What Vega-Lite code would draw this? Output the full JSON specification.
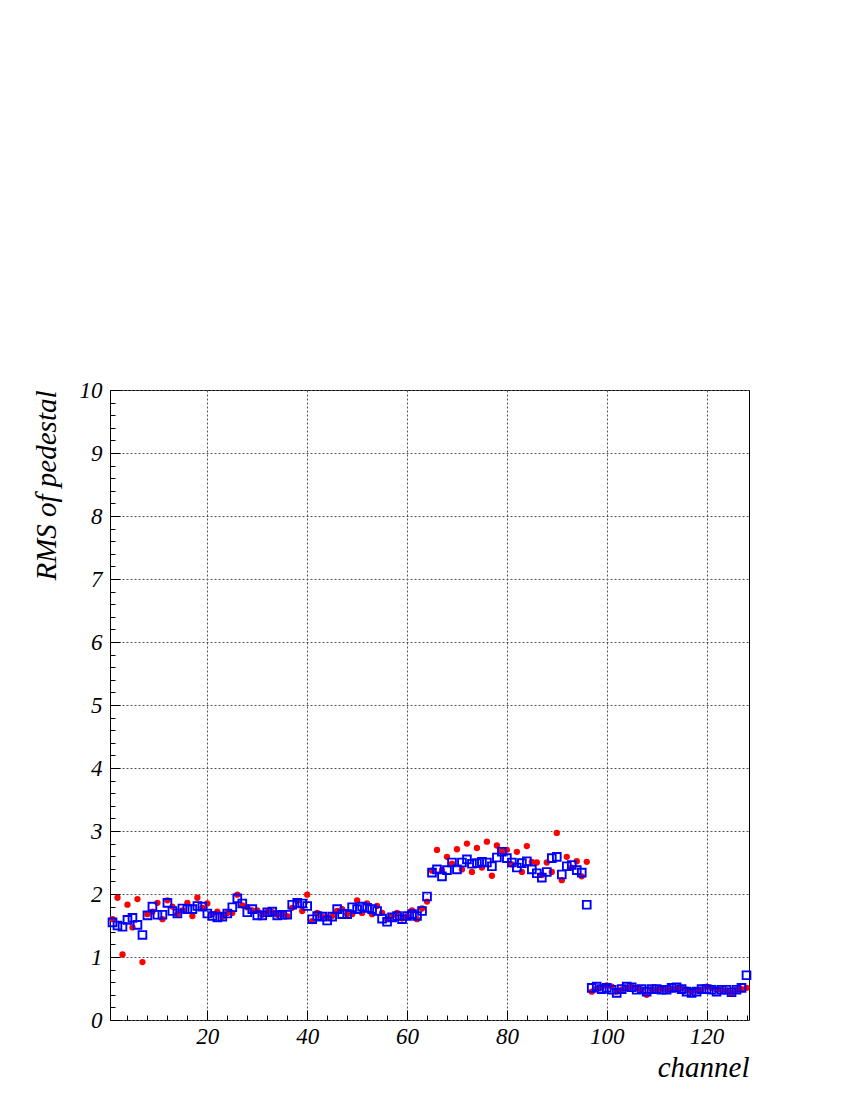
{
  "$schema": "https://vega.github.io/schema/vega-lite/v6.json",
  "autosize": {"type": "none"},
  "width": 639,
  "height": 630,
  "padding": {"left": 110, "top": 390, "right": 101, "bottom": 80},
  "background": "white",
  "config": {
    "view": {"stroke": "black", "strokeWidth": 1},
    "axis": {
      "labelFont": "Liberation Serif",
      "labelFontStyle": "italic",
      "labelFontSize": 23,
      "labelColor": "black",
      "titleFont": "Liberation Serif",
      "titleFontStyle": "italic",
      "titleFontWeight": "normal",
      "titleFontSize": 29,
      "titleColor": "black",
      "tickColor": "black",
      "domain": false,
      "gridColor": "#555555",
      "gridDash": [2, 2],
      "gridWidth": 1
    }
  },
  "datasets": {
    "setRed": [
      {"channel":1,"rms":1.60},{"channel":2,"rms":1.94},{"channel":3,"rms":1.04},{"channel":4,"rms":1.83},{"channel":5,"rms":1.47},{"channel":6,"rms":1.92},{"channel":7,"rms":0.92},{"channel":8,"rms":1.68},{"channel":9,"rms":1.72},{"channel":10,"rms":1.86},
      {"channel":11,"rms":1.60},{"channel":12,"rms":1.90},{"channel":13,"rms":1.80},{"channel":14,"rms":1.68},{"channel":15,"rms":1.74},{"channel":16,"rms":1.86},{"channel":17,"rms":1.65},{"channel":18,"rms":1.94},{"channel":19,"rms":1.78},{"channel":20,"rms":1.85},
      {"channel":21,"rms":1.68},{"channel":22,"rms":1.72},{"channel":23,"rms":1.64},{"channel":24,"rms":1.70},{"channel":25,"rms":1.70},{"channel":26,"rms":1.99},{"channel":27,"rms":1.82},{"channel":28,"rms":1.79},{"channel":29,"rms":1.74},{"channel":30,"rms":1.74},
      {"channel":31,"rms":1.67},{"channel":32,"rms":1.72},{"channel":33,"rms":1.71},{"channel":34,"rms":1.67},{"channel":35,"rms":1.68},{"channel":36,"rms":1.65},{"channel":37,"rms":1.78},{"channel":38,"rms":1.89},{"channel":39,"rms":1.73},{"channel":40,"rms":1.99},
      {"channel":41,"rms":1.57},{"channel":42,"rms":1.70},{"channel":43,"rms":1.64},{"channel":44,"rms":1.62},{"channel":45,"rms":1.65},{"channel":46,"rms":1.73},{"channel":47,"rms":1.76},{"channel":48,"rms":1.68},{"channel":49,"rms":1.68},{"channel":50,"rms":1.90},
      {"channel":51,"rms":1.70},{"channel":52,"rms":1.85},{"channel":53,"rms":1.68},{"channel":54,"rms":1.81},{"channel":55,"rms":1.70},{"channel":56,"rms":1.60},{"channel":57,"rms":1.65},{"channel":58,"rms":1.70},{"channel":59,"rms":1.61},{"channel":60,"rms":1.65},
      {"channel":61,"rms":1.74},{"channel":62,"rms":1.60},{"channel":63,"rms":1.77},{"channel":64,"rms":1.88},{"channel":65,"rms":2.37},{"channel":66,"rms":2.70},{"channel":67,"rms":2.38},{"channel":68,"rms":2.59},{"channel":69,"rms":2.48},{"channel":70,"rms":2.71},
      {"channel":71,"rms":2.39},{"channel":72,"rms":2.80},{"channel":73,"rms":2.35},{"channel":74,"rms":2.73},{"channel":75,"rms":2.42},{"channel":76,"rms":2.83},{"channel":77,"rms":2.29},{"channel":78,"rms":2.77},{"channel":79,"rms":2.68},{"channel":80,"rms":2.70},
      {"channel":81,"rms":2.47},{"channel":82,"rms":2.67},{"channel":83,"rms":2.35},{"channel":84,"rms":2.76},{"channel":85,"rms":2.51},{"channel":86,"rms":2.50},{"channel":87,"rms":2.30},{"channel":88,"rms":2.50},{"channel":89,"rms":2.35},{"channel":90,"rms":2.97},
      {"channel":91,"rms":2.22},{"channel":92,"rms":2.59},{"channel":93,"rms":2.42},{"channel":94,"rms":2.52},{"channel":95,"rms":2.28},{"channel":96,"rms":2.51},{"channel":97,"rms":0.45},{"channel":98,"rms":0.50},{"channel":99,"rms":0.52},{"channel":100,"rms":0.55},
      {"channel":101,"rms":0.53},{"channel":102,"rms":0.45},{"channel":103,"rms":0.48},{"channel":104,"rms":0.51},{"channel":105,"rms":0.53},{"channel":106,"rms":0.51},{"channel":107,"rms":0.48},{"channel":108,"rms":0.40},{"channel":109,"rms":0.49},{"channel":110,"rms":0.48},
      {"channel":111,"rms":0.49},{"channel":112,"rms":0.48},{"channel":113,"rms":0.49},{"channel":114,"rms":0.51},{"channel":115,"rms":0.51},{"channel":116,"rms":0.48},{"channel":117,"rms":0.45},{"channel":118,"rms":0.47},{"channel":119,"rms":0.48},{"channel":120,"rms":0.53},
      {"channel":121,"rms":0.51},{"channel":122,"rms":0.48},{"channel":123,"rms":0.48},{"channel":124,"rms":0.47},{"channel":125,"rms":0.43},{"channel":126,"rms":0.48},{"channel":127,"rms":0.49},{"channel":128,"rms":0.51}
    ],
    "setBlue": [
      {"channel":1,"rms":1.55},{"channel":2,"rms":1.50},{"channel":3,"rms":1.48},{"channel":4,"rms":1.59},{"channel":5,"rms":1.62},{"channel":6,"rms":1.51},{"channel":7,"rms":1.35},{"channel":8,"rms":1.66},{"channel":9,"rms":1.80},{"channel":10,"rms":1.67},
      {"channel":11,"rms":1.67},{"channel":12,"rms":1.86},{"channel":13,"rms":1.73},{"channel":14,"rms":1.69},{"channel":15,"rms":1.77},{"channel":16,"rms":1.76},{"channel":17,"rms":1.76},{"channel":18,"rms":1.81},{"channel":19,"rms":1.80},{"channel":20,"rms":1.69},
      {"channel":21,"rms":1.65},{"channel":22,"rms":1.63},{"channel":23,"rms":1.64},{"channel":24,"rms":1.69},{"channel":25,"rms":1.79},{"channel":26,"rms":1.93},{"channel":27,"rms":1.85},{"channel":28,"rms":1.71},{"channel":29,"rms":1.76},{"channel":30,"rms":1.66},
      {"channel":31,"rms":1.66},{"channel":32,"rms":1.71},{"channel":33,"rms":1.72},{"channel":34,"rms":1.66},{"channel":35,"rms":1.67},{"channel":36,"rms":1.67},{"channel":37,"rms":1.83},{"channel":38,"rms":1.86},{"channel":39,"rms":1.85},{"channel":40,"rms":1.81},
      {"channel":41,"rms":1.60},{"channel":42,"rms":1.65},{"channel":43,"rms":1.64},{"channel":44,"rms":1.58},{"channel":45,"rms":1.64},{"channel":46,"rms":1.76},{"channel":47,"rms":1.68},{"channel":48,"rms":1.68},{"channel":49,"rms":1.79},{"channel":50,"rms":1.76},
      {"channel":51,"rms":1.80},{"channel":52,"rms":1.78},{"channel":53,"rms":1.76},{"channel":54,"rms":1.73},{"channel":55,"rms":1.61},{"channel":56,"rms":1.56},{"channel":57,"rms":1.63},{"channel":58,"rms":1.65},{"channel":59,"rms":1.60},{"channel":60,"rms":1.65},
      {"channel":61,"rms":1.68},{"channel":62,"rms":1.65},{"channel":63,"rms":1.73},{"channel":64,"rms":1.96},{"channel":65,"rms":2.34},{"channel":66,"rms":2.39},{"channel":67,"rms":2.28},{"channel":68,"rms":2.38},{"channel":69,"rms":2.50},{"channel":70,"rms":2.39},
      {"channel":71,"rms":2.50},{"channel":72,"rms":2.55},{"channel":73,"rms":2.48},{"channel":74,"rms":2.49},{"channel":75,"rms":2.51},{"channel":76,"rms":2.50},{"channel":77,"rms":2.44},{"channel":78,"rms":2.58},{"channel":79,"rms":2.67},{"channel":80,"rms":2.57},
      {"channel":81,"rms":2.50},{"channel":82,"rms":2.42},{"channel":83,"rms":2.49},{"channel":84,"rms":2.52},{"channel":85,"rms":2.39},{"channel":86,"rms":2.33},{"channel":87,"rms":2.26},{"channel":88,"rms":2.35},{"channel":89,"rms":2.57},{"channel":90,"rms":2.59},
      {"channel":91,"rms":2.31},{"channel":92,"rms":2.44},{"channel":93,"rms":2.46},{"channel":94,"rms":2.38},{"channel":95,"rms":2.34},{"channel":96,"rms":1.83},{"channel":97,"rms":0.51},{"channel":98,"rms":0.53},{"channel":99,"rms":0.49},{"channel":100,"rms":0.51},
      {"channel":101,"rms":0.48},{"channel":102,"rms":0.43},{"channel":103,"rms":0.49},{"channel":104,"rms":0.53},{"channel":105,"rms":0.52},{"channel":106,"rms":0.48},{"channel":107,"rms":0.49},{"channel":108,"rms":0.45},{"channel":109,"rms":0.49},{"channel":110,"rms":0.49},
      {"channel":111,"rms":0.48},{"channel":112,"rms":0.48},{"channel":113,"rms":0.51},{"channel":114,"rms":0.52},{"channel":115,"rms":0.49},{"channel":116,"rms":0.45},{"channel":117,"rms":0.43},{"channel":118,"rms":0.45},{"channel":119,"rms":0.49},{"channel":120,"rms":0.49},
      {"channel":121,"rms":0.48},{"channel":122,"rms":0.45},{"channel":123,"rms":0.48},{"channel":124,"rms":0.48},{"channel":125,"rms":0.44},{"channel":126,"rms":0.48},{"channel":127,"rms":0.51},{"channel":128,"rms":0.71}
    ]
  },
  "layer": [
    {
      "data": {"name": "setRed"},
      "mark": {"type": "point", "shape": "circle", "filled": true, "color": "#ff0000", "size": 40, "opacity": 1},
      "encoding": {
        "x": {
          "field": "channel", "type": "quantitative",
          "scale": {"domain": [0.5, 128.5], "nice": false, "zero": false},
          "axis": {
            "orient": "bottom",
            "values": [20, 40, 60, 80, 100, 120],
            "grid": true,
            "tickSize": -10,
            "labelPadding": 15,
            "title": "channel",
            "titleAnchor": "end",
            "titleAlign": "right",
            "titleBaseline": "alphabetic",
            "titleX": 639,
            "titleY": 56
          }
        },
        "y": {
          "field": "rms", "type": "quantitative",
          "scale": {"domain": [0, 10], "nice": false, "zero": true},
          "axis": {
            "orient": "left",
            "values": [0, 1, 2, 3, 4, 5, 6, 7, 8, 9, 10],
            "grid": true,
            "tickSize": -10,
            "labelPadding": 18,
            "title": "RMS of pedestal",
            "titleAnchor": "end",
            "titleAlign": "right",
            "titleBaseline": "alphabetic",
            "titleAngle": -90,
            "titleX": -55,
            "titleY": 0
          }
        }
      }
    },
    {
      "data": {"name": "setBlue"},
      "mark": {"type": "point", "shape": "square", "filled": false, "color": "#0000ff", "size": 60, "strokeWidth": 1.9, "opacity": 1},
      "encoding": {
        "x": {
          "field": "channel", "type": "quantitative",
          "scale": {"domain": [0.5, 128.5], "nice": false, "zero": false},
          "axis": {
            "orient": "bottom",
            "values": [4, 8, 12, 16, 24, 28, 32, 36, 44, 48, 52, 56, 64, 68, 72, 76, 84, 88, 92, 96, 104, 108, 112, 116, 124, 128],
            "grid": false,
            "labels": false,
            "tickSize": -5,
            "title": null
          }
        },
        "y": {
          "field": "rms", "type": "quantitative",
          "scale": {"domain": [0, 10], "nice": false, "zero": true},
          "axis": {
            "orient": "left",
            "values": [0.2, 0.4, 0.6, 0.8, 1.2, 1.4, 1.6, 1.8, 2.2, 2.4, 2.6, 2.8, 3.2, 3.4, 3.6, 3.8, 4.2, 4.4, 4.6, 4.8, 5.2, 5.4, 5.6, 5.8, 6.2, 6.4, 6.6, 6.8, 7.2, 7.4, 7.6, 7.8, 8.2, 8.4, 8.6, 8.8, 9.2, 9.4, 9.6, 9.8],
            "grid": false,
            "labels": false,
            "tickSize": -5,
            "title": null
          }
        }
      }
    }
  ],
  "resolve": {"axis": {"x": "independent", "y": "independent"}}
}
